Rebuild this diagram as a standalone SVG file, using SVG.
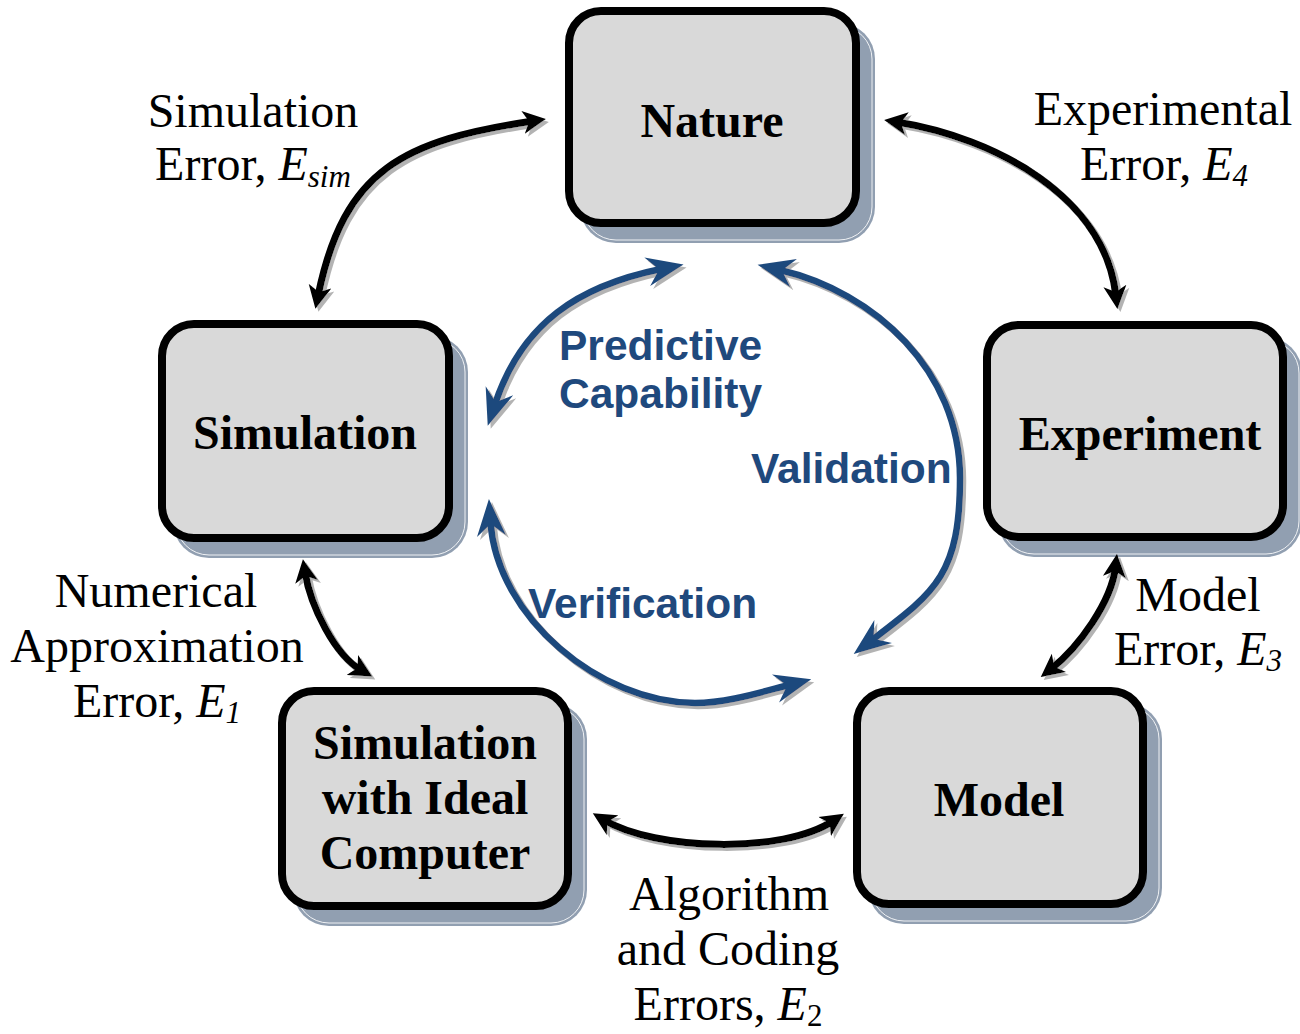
<svg xmlns="http://www.w3.org/2000/svg" width="1300" height="1034" viewBox="0 0 1300 1034">
  <style>
    .shadow { fill: #919fb1; }
    .shadow-line { fill: none; stroke: #ffffff; stroke-width: 1; opacity: 0.85; }
    .box { fill: #d9d9d9; stroke: #000000; stroke-width: 8; }
    .node-text { font-family: "Liberation Serif", "Times New Roman", serif; font-weight: bold; font-size: 48px; fill: #000000; text-anchor: middle; }
    .err-text { font-family: "Liberation Serif", "Times New Roman", serif; font-size: 48px; fill: #000000; text-anchor: middle; }
    .err-text .it { font-style: italic; }
    .err-text .sub { font-size: 31px; }
    .loop-text { font-family: "Liberation Sans", Arial, sans-serif; font-weight: bold; font-size: 42.5px; fill: #1f497d; }
    .arc-black { fill: none; stroke: #000000; stroke-width: 7; marker-start: url(#headBlack); marker-end: url(#headBlack); }
    .arc-blue { fill: none; stroke: #1f497d; stroke-width: 6.5; marker-start: url(#headBlue); marker-end: url(#headBlue); }
  </style>
  <defs>
    <marker id="headBlack" viewBox="0 -12 24 24" markerWidth="24" markerHeight="24" refX="10" refY="0" orient="auto-start-reverse" markerUnits="userSpaceOnUse">
      <path d="M0,-11.5 L23,0 L0,11.5 L6,0 Z" fill="#000000"/>
    </marker>
    <marker id="headBlue" viewBox="0 -16 40 32" markerWidth="40" markerHeight="32" refX="14" refY="0" orient="auto-start-reverse" markerUnits="userSpaceOnUse">
      <path d="M0,-14.5 L37,0 L0,14.5 L12,0 Z" fill="#1f497d"/>
    </marker>
    <filter id="arcShadow" filterUnits="userSpaceOnUse" x="0" y="0" width="1300" height="1034">
      <feDropShadow dx="3" dy="3" stdDeviation="0.7" flood-color="#b3b3b3" flood-opacity="1"/>
    </filter>
  </defs>

  <rect width="1300" height="1034" fill="#ffffff"/>

  <!-- nodes -->
  <g id="node-nature">
    <rect class="shadow" x="580" y="23" width="295" height="220" rx="36"/>
    <rect class="shadow-line" x="583" y="26" width="289" height="214" rx="33"/>
    <rect class="box" x="569" y="11" width="287" height="212" rx="32"/>
    <text class="node-text" x="712" y="137">Nature</text>
  </g>
  <g id="node-simulation">
    <rect class="shadow" x="173" y="336" width="295" height="222" rx="36"/>
    <rect class="shadow-line" x="176" y="339" width="289" height="216" rx="33"/>
    <rect class="box" x="162" y="324" width="287" height="214" rx="32"/>
    <text class="node-text" x="305" y="449">Simulation</text>
  </g>
  <g id="node-experiment">
    <rect class="shadow" x="998" y="337" width="304" height="220" rx="36"/>
    <rect class="shadow-line" x="1001" y="340" width="298" height="214" rx="33"/>
    <rect class="box" x="987" y="325" width="296" height="212" rx="32"/>
    <text class="node-text" x="1140" y="450">Experiment</text>
  </g>
  <g id="node-model">
    <rect class="shadow" x="868" y="703" width="294" height="221" rx="36"/>
    <rect class="shadow-line" x="871" y="706" width="288" height="215" rx="33"/>
    <rect class="box" x="857" y="691" width="286" height="213" rx="32"/>
    <text class="node-text" x="999" y="816">Model</text>
  </g>
  <g id="node-ideal-computer">
    <rect class="shadow" x="293" y="703" width="294" height="223" rx="36"/>
    <rect class="shadow-line" x="296" y="706" width="288" height="217" rx="33"/>
    <rect class="box" x="282" y="691" width="286" height="215" rx="32"/>
    <text class="node-text" x="425" y="759">Simulation</text>
    <text class="node-text" x="425" y="814">with Ideal</text>
    <text class="node-text" x="425" y="869">Computer</text>
  </g>

  <!-- connectors -->
  <g id="connectors" filter="url(#arcShadow)">
    <!-- error links between the outer nodes -->
    <path class="arc-black" d="M318,296 C344,168.6 404,140.5 533,121"/>
    <path class="arc-black" d="M897,122 C996,138 1105,197 1116,296"/>
    <path class="arc-black" d="M305,572 C310.6,606.6 335,655 361,670"/>
    <path class="arc-black" d="M1115.5,567 C1111.6,601.6 1078.7,647.3 1051,669"/>
    <path class="arc-black" d="M604,820 C655.6,850.6 783,854 833,821"/>
    <!-- inner loop -->
    <path class="arc-blue" d="M495,404 C522,323 578,286 661,269"/>
    <path class="arc-blue" d="M780,270 C874,292 960,370 960,478 C960,575 935,592 872,640"/>
    <path class="arc-blue" d="M490.5,522 C497,617 600,703 695,703 C726,703 758,693 789,685"/>
  </g>

  <!-- connector labels -->
  <g id="labels">
    <text class="err-text" x="253" y="127">Simulation</text>
    <text class="err-text" x="253" y="180">Error, <tspan class="it">E</tspan><tspan class="it sub" dy="7">sim</tspan></text>

    <text class="err-text" x="1163" y="125">Experimental</text>
    <text class="err-text" x="1164" y="180">Error, <tspan class="it">E</tspan><tspan class="it sub" dy="6">4</tspan></text>

    <text class="err-text" x="156" y="607">Numerical</text>
    <text class="err-text" x="157" y="662">Approximation</text>
    <text class="err-text" x="157" y="717">Error, <tspan class="it">E</tspan><tspan class="it sub" dy="6">1</tspan></text>

    <text class="err-text" x="1198" y="611">Model</text>
    <text class="err-text" x="1198" y="665">Error, <tspan class="it">E</tspan><tspan class="it sub" dy="6">3</tspan></text>

    <text class="err-text" x="729" y="910">Algorithm</text>
    <text class="err-text" x="728" y="965">and Coding</text>
    <text class="err-text" x="728" y="1020">Errors, <tspan class="it">E</tspan><tspan class="sub" dy="6">2</tspan></text>

    <text class="loop-text" x="559" y="360">Predictive</text>
    <text class="loop-text" x="559" y="408">Capability</text>
    <text class="loop-text" x="751" y="483">Validation</text>
    <text class="loop-text" x="528" y="618">Verification</text>
  </g>
</svg>
